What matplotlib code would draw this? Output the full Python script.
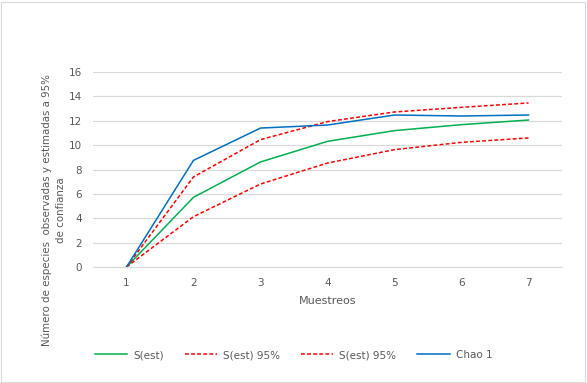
import matplotlib.pyplot as plt
from matplotlib.patches import Rectangle

muestreos = [1, 2, 3, 4, 5, 6, 7]
s_est = [0, 5.72, 8.62, 10.31, 11.19, 11.68, 12.06]
s_est_sup = [0, 7.39, 10.45, 11.93, 12.72, 13.10, 13.46]
s_est_inf = [0, 4.13, 6.81, 8.53, 9.63, 10.23, 10.59]
chao1 = [0, 8.75, 11.40, 11.65, 12.47, 12.39, 12.47]
yticks = [0, 2, 4, 6, 8, 10, 12, 14, 16]

gris = '#595959'
fig = plt.figure(figsize=(5.87, 3.83), dpi=100)
ax = fig.add_axes([93 / 587, 1 - 267 / 383, 469 / 587, 195 / 383])

ax.plot(muestreos, s_est, color='#00b050', lw=1.1, label='S(est)')
ax.plot(muestreos, s_est_sup, color='#ff0000', lw=1.1, ls=(0, (2.5, 1.5)), label='S(est) 95%')
ax.plot(muestreos, s_est_inf, color='#ff0000', lw=1.1, ls=(0, (2.5, 1.5)), label='S(est) 95%')
ax.plot(muestreos, chao1, color='#0070c0', lw=1.1, label='Chao 1')

ax.set_xlim(0.5, 7.5)
ax.set_ylim(0, 16)
ax.set_xticks(muestreos)
ax.set_yticks(yticks)
ax.grid(axis='y', color='#d9d9d9', lw=0.9)
ax.set_axisbelow(True)
for s in ['top', 'right', 'left']:
    ax.spines[s].set_visible(False)
ax.spines['bottom'].set_color('#d9d9d9')
ax.tick_params(length=0, labelsize=7.5, colors=gris, pad=8)

ax.set_xlabel('Muestreos', fontsize=8, color=gris, labelpad=6)
ax.set_ylabel('Número de especies  observadas y estimadas a 95%\nde confianza',
              fontsize=7.4, color=gris, linespacing=1.5)
ax.yaxis.set_label_coords(-0.058, 0.29)

fig.legend(loc='center', bbox_to_anchor=(0.5, 1 - 355 / 383), ncol=4, frameon=False,
           fontsize=7.5, handlelength=3.1, handletextpad=0.6, columnspacing=2.0,
           labelcolor=gris)

fig.patches.append(Rectangle((0.002, 0.003), 0.995, 0.993, transform=fig.transFigure,
                             fill=False, edgecolor='#d9d9d9', lw=0.8))

fig.savefig('out.png', dpi=100)
